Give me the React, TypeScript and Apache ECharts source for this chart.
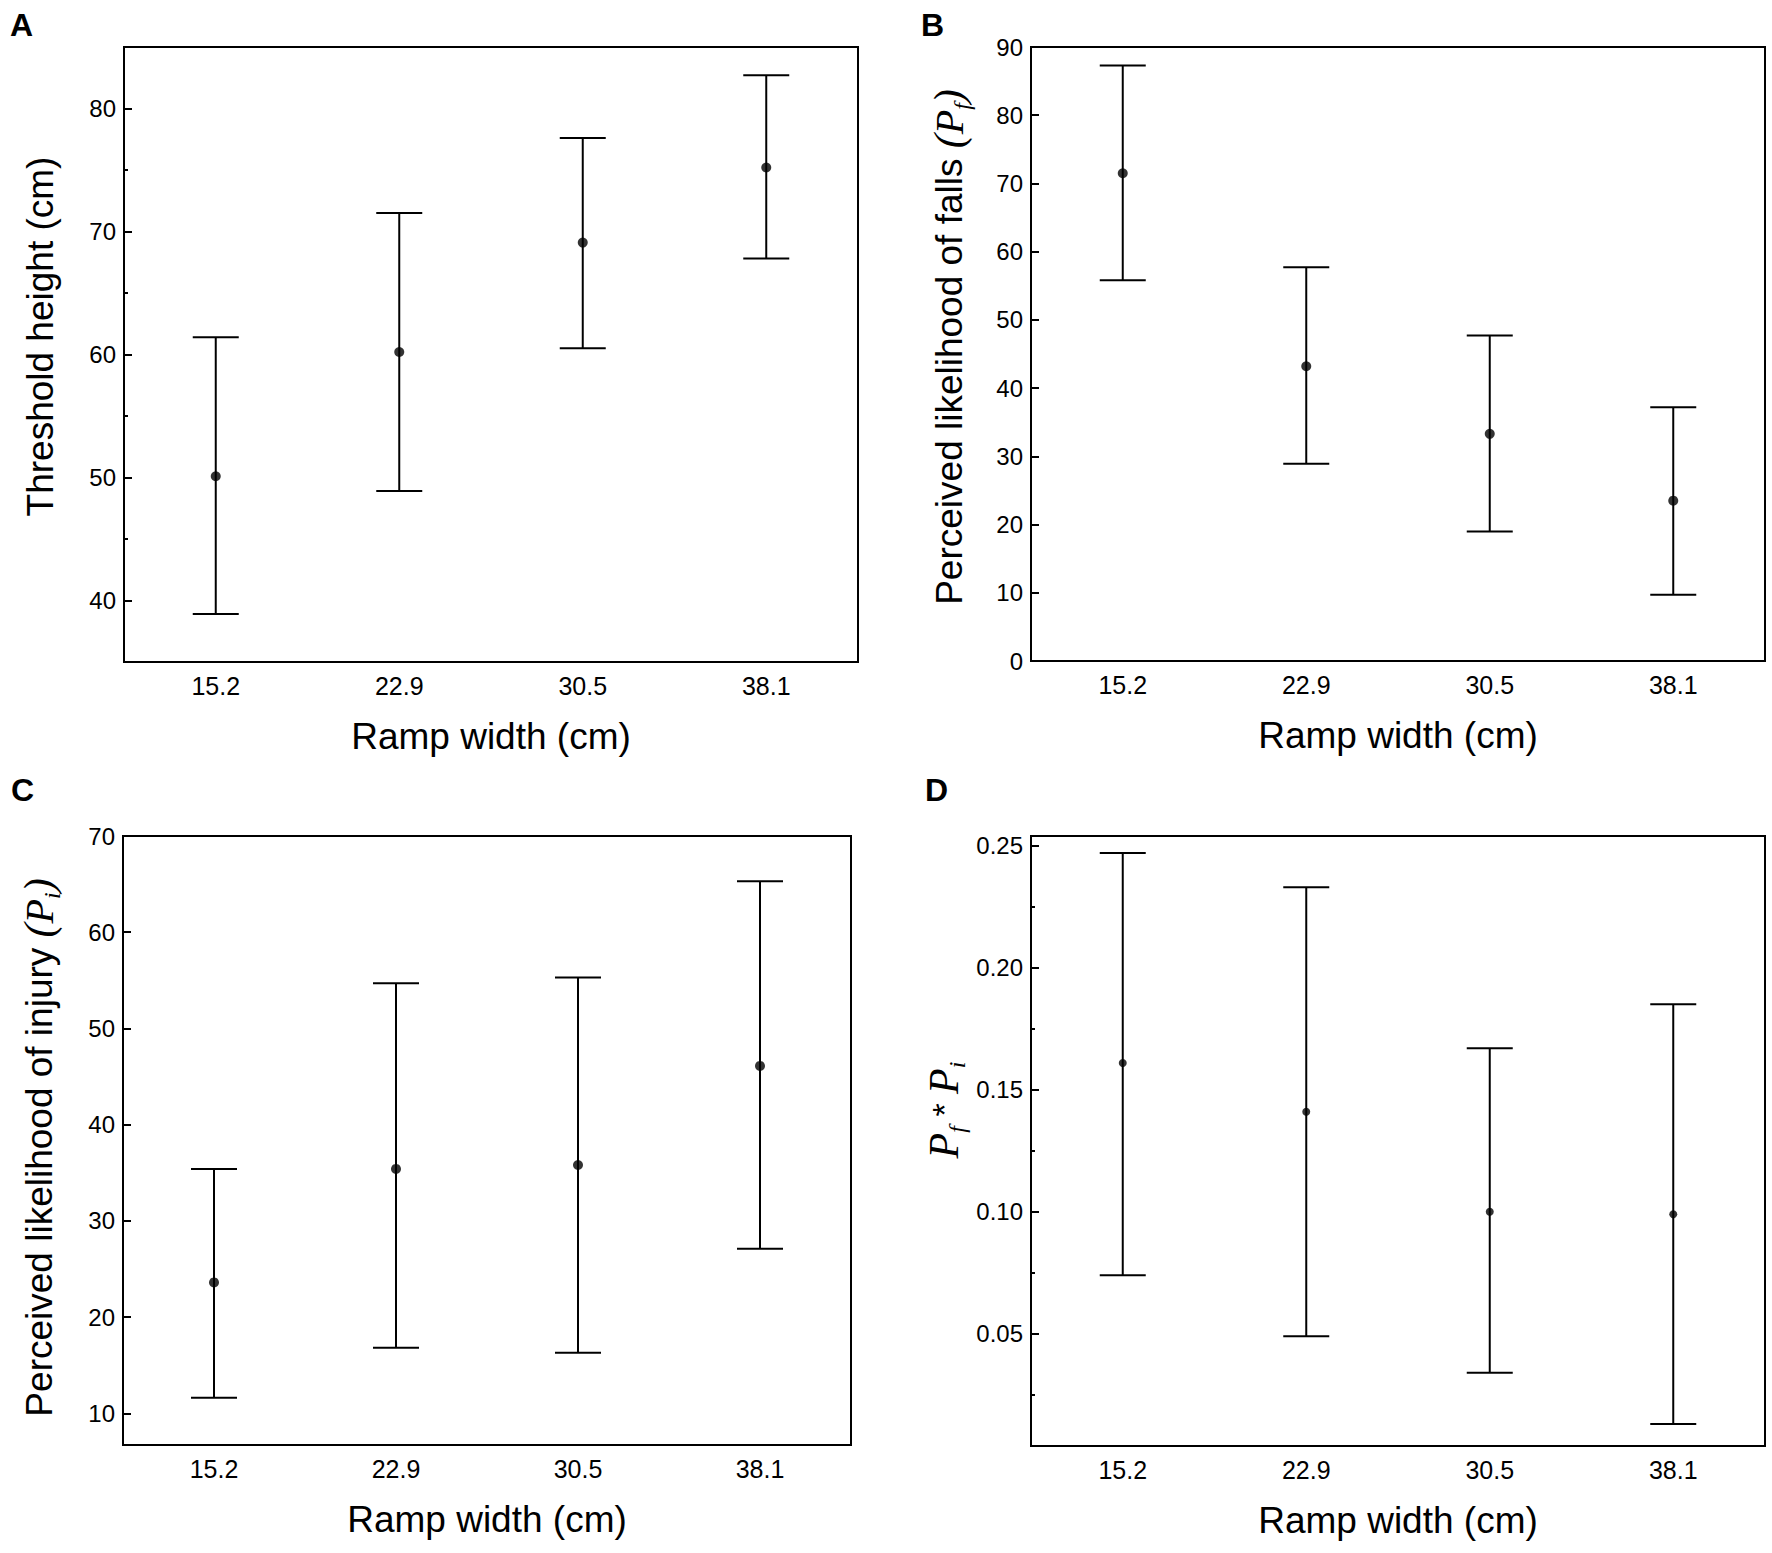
import React, { useEffect, useRef } from "react";
import * as echarts from "echarts";

// ---------- data ----------
const rampWidths = ["15.2", "22.9", "30.5", "38.1"];

const thresholdMean = [50.1, 60.2, 69.1, 75.2];
const thresholdLow = [38.9, 48.9, 60.5, 67.8];
const thresholdHigh = [61.4, 71.5, 77.6, 82.7];

const fallsMean = [71.5, 43.2, 33.3, 23.5];
const fallsLow = [55.8, 28.9, 19.0, 9.7];
const fallsHigh = [87.3, 57.7, 47.7, 37.2];

const injuryMean = [23.6, 35.4, 35.8, 46.1];
const injuryLow = [11.6, 16.8, 16.3, 27.1];
const injuryHigh = [35.4, 54.7, 55.3, 65.3];

const riskMean = [0.161, 0.141, 0.1, 0.099];
const riskLow = [0.074, 0.049, 0.034, 0.013];
const riskHigh = [0.247, 0.233, 0.167, 0.185];

const ticksA = [40, 50, 60, 70, 80];
const minorTicksA = [45, 55, 65, 75];
const ticksB = [0, 10, 20, 30, 40, 50, 60, 70, 80, 90];
const ticksC = [10, 20, 30, 40, 50, 60, 70];
const ticksD = [0.05, 0.1, 0.15, 0.2, 0.25];
const minorTicksD = [0.025, 0.075, 0.125, 0.175, 0.225];

const SANS = "'Liberation Sans', Arial, Helvetica, sans-serif";
const SERIF = "'Liberation Serif', 'Times New Roman', serif";

type Panel = {
  grid: { left: number; top: number; width: number; height: number };
  min: number;
  max: number;
  ticks: number[];
  minor?: number[];
  decimals: number;
  name: string;
  nameGap: number;
  namePad?: number[];
  mean: number[];
  low: number[];
  high: number[];
  dot: number;
};

const nameRich = {
  n: { fontFamily: SANS, fontSize: 37, lineHeight: 54, color: "#000" },
  s: { fontFamily: SERIF, fontStyle: "italic", fontSize: 42, lineHeight: 54, color: "#000" },
  it: { fontFamily: SERIF, fontStyle: "italic", fontSize: 40, lineHeight: 54, color: "#000" },
  big: { fontFamily: SERIF, fontStyle: "italic", fontSize: 42, lineHeight: 54, color: "#000" },
  st: { fontFamily: SANS, fontSize: 34, lineHeight: 54, color: "#000" },
  sub: {
    fontFamily: SERIF,
    fontStyle: "italic",
    fontSize: 24,
    lineHeight: 24,
    verticalAlign: "top",
    padding: [28, 0, 0, 0],
    color: "#000",
  },
};

const panels: Panel[] = [
  {
    grid: { left: 124, top: 47, width: 734, height: 615 },
    min: 35,
    max: 85,
    ticks: ticksA,
    minor: minorTicksA,
    decimals: 0,
    name: "{n|Threshold height (cm)}",
    nameGap: 57,
    namePad: [0, 0, 0, 36],
    mean: thresholdMean,
    low: thresholdLow,
    high: thresholdHigh,
    dot: 10,
  },
  {
    grid: { left: 1031, top: 47, width: 734, height: 614 },
    min: 0,
    max: 90,
    ticks: ticksB,
    decimals: 0,
    name: "{n|Perceived likelihood of falls }{s|(}{it|P}{sub|f}{s|)}",
    nameGap: 55,
    namePad: [0, 0, 0, 14],
    mean: fallsMean,
    low: fallsLow,
    high: fallsHigh,
    dot: 10,
  },
  {
    grid: { left: 123, top: 836, width: 728, height: 609 },
    min: 6.7,
    max: 70,
    ticks: ticksC,
    decimals: 0,
    name: "{n|Perceived likelihood of injury }{s|(}{it|P}{sub|i}{s|)}",
    nameGap: 57,
    namePad: [0, 14, 0, 0],
    mean: injuryMean,
    low: injuryLow,
    high: injuryHigh,
    dot: 10,
  },
  {
    grid: { left: 1031, top: 836, width: 734, height: 610 },
    min: 0.004,
    max: 0.254,
    ticks: ticksD,
    minor: minorTicksD,
    decimals: 2,
    name: "{big|P}{sub|f}{st| * }{big|P}{sub|i}",
    nameGap: 60,
    namePad: [0, 0, 0, 62],
    mean: riskMean,
    low: riskLow,
    high: riskHigh,
    dot: 8,
  },
];

function buildOption() {
  const grid: any[] = [];
  const xAxis: any[] = [];
  const yAxis: any[] = [];
  const series: any[] = [];

  panels.forEach((p, gi) => {
    grid.push({
      ...p.grid,
      show: true,
      borderColor: "#000",
      borderWidth: 2,
      backgroundColor: "transparent",
      containLabel: false,
    });
    xAxis.push({
      type: "category",
      gridIndex: gi,
      data: rampWidths,
      boundaryGap: true,
      axisLine: { show: true, lineStyle: { color: "#000", width: 2 } },
      axisTick: { show: false },
      axisLabel: { fontSize: 25, color: "#000", fontFamily: SANS, margin: 11 },
      splitLine: { show: false },
      name: "Ramp width (cm)",
      nameLocation: "middle",
      nameGap: 56,
      nameTextStyle: { fontSize: 37, color: "#000", fontFamily: SANS },
    });
    const yMainIndex = yAxis.length;
    yAxis.push({
      type: "value",
      gridIndex: gi,
      position: "left",
      min: p.min,
      max: p.max,
      axisLine: { show: true, lineStyle: { color: "#000", width: 2 } },
      axisTick: {
        show: true,
        inside: true,
        length: 8,
        customValues: p.ticks,
        lineStyle: { color: "#000", width: 2 },
      },
      axisLabel: {
        fontSize: 24,
        color: "#000",
        fontFamily: SANS,
        margin: 8,
        customValues: p.ticks,
        formatter: (v: number) => v.toFixed(p.decimals),
      },
      splitLine: { show: false },
      name: p.name,
      nameLocation: "middle",
      nameGap: p.nameGap,
      nameTextStyle: {
        fontSize: 37,
        lineHeight: 54,
        color: "#000",
        fontFamily: SANS,
        rich: nameRich,
        padding: p.namePad || 0,
      },
    });
    if (p.minor) {
      yAxis.push({
        type: "value",
        gridIndex: gi,
        position: "left",
        offset: 0,
        min: p.min,
        max: p.max,
        axisLine: { show: false },
        axisTick: {
          show: true,
          inside: true,
          length: 4,
          customValues: p.minor,
          lineStyle: { color: "#000", width: 2 },
        },
        axisLabel: { show: false, customValues: p.minor },
        splitLine: { show: false },
      });
    }

    const barData = rampWidths.map((_, i) => [i, p.low[i], p.high[i]]);
    series.push({
      type: "custom",
      xAxisIndex: gi,
      yAxisIndex: yMainIndex,
      data: barData,
      encode: { x: 0, y: [1, 2] },
      silent: true,
      renderItem: (params: any, api: any) => {
        const i = api.value(0);
        const lo = api.coord([i, api.value(1)]);
        const hi = api.coord([i, api.value(2)]);
        const hw = 23;
        const style = { stroke: "#000", lineWidth: 2, fill: null };
        return {
          type: "group",
          children: [
            { type: "line", shape: { x1: lo[0], y1: lo[1], x2: hi[0], y2: hi[1] }, style },
            { type: "line", shape: { x1: lo[0] - hw, y1: lo[1], x2: lo[0] + hw, y2: lo[1] }, style },
            { type: "line", shape: { x1: hi[0] - hw, y1: hi[1], x2: hi[0] + hw, y2: hi[1] }, style },
          ],
        };
      },
      z: 2,
    });
    series.push({
      type: "scatter",
      xAxisIndex: gi,
      yAxisIndex: yMainIndex,
      data: p.mean,
      symbol: "circle",
      symbolSize: p.dot,
      itemStyle: { color: "#000" },
      silent: true,
      z: 3,
    });
  });

  const letter = (t: string, x: number, y: number) => ({
    type: "text",
    left: x,
    top: y,
    style: { text: t, font: `bold 32px ${SANS}`, fill: "#000" },
  });

  return {
    animation: false,
    backgroundColor: "#fff",
    grid,
    xAxis,
    yAxis,
    series,
    graphic: [
      letter("A", 10, 9),
      letter("B", 921, 9),
      letter("C", 11, 774),
      letter("D", 925, 774),
    ],
  };
}

export default function App() {
  const ref = useRef<HTMLDivElement>(null);
  useEffect(() => {
    document.body.style.margin = "0";
    if (!ref.current) return;
    const chart = echarts.init(ref.current, undefined, { renderer: "svg" });
    chart.setOption(buildOption() as any);
    return () => chart.dispose();
  }, []);
  return <div ref={ref} style={{ width: 1772, height: 1553 }} />;
}
